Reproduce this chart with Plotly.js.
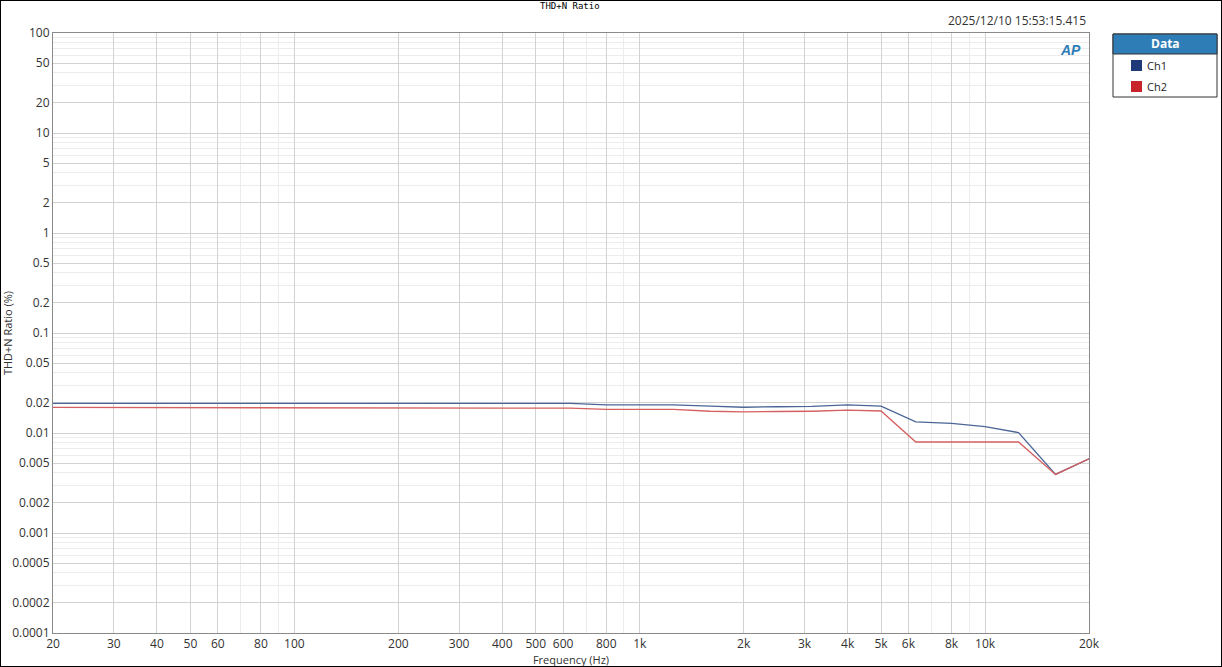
<!DOCTYPE html>
<html>
<head>
<meta charset="utf-8">
<script src="https://cdn.plot.ly/plotly-3.0.1.min.js"></script>
<style>
  html, body { margin: 0; padding: 0; background: #fff; }
  #wrap { position: relative; width: 1222px; height: 667px; }
  #chart { width: 1222px; height: 667px; }
  #frame { position: absolute; left: 0; top: 0; width: 1220px; height: 665px; border: 1px solid #000; pointer-events: none; }
</style>
</head>
<body>
<div id="wrap"><div id="chart"></div><div id="frame"></div></div>
<script>
// ---- data ----
const freqs = [20, 25, 31.5, 40, 50, 63, 80, 100, 125, 160, 200, 250, 315, 400, 500, 630,
               800, 1000, 1250, 1600, 2000, 2500, 3150, 4000, 5000, 6300, 8000, 10000, 12500, 16000, 20000];
const ch1 = [0.0198, 0.0198, 0.0198, 0.0198, 0.0198, 0.0198, 0.0198, 0.0198, 0.0198, 0.0198, 0.0198, 0.0198, 0.0198, 0.0198, 0.0198, 0.0198,
             0.0191, 0.0191, 0.0191, 0.0186, 0.0181, 0.0183, 0.01845, 0.0191, 0.0186, 0.0129, 0.0125, 0.0116, 0.0101, 0.00385, 0.00553];
const ch2 = [0.0180, 0.0180, 0.0180, 0.0180, 0.0180, 0.0180, 0.0180, 0.0180, 0.0180, 0.0180, 0.0177, 0.0177, 0.0177, 0.0177, 0.0177, 0.0177,
             0.0172, 0.0172, 0.0172, 0.0165, 0.0163, 0.0164, 0.0165, 0.0169, 0.0166, 0.00813, 0.00813, 0.00813, 0.00813, 0.00385, 0.00553];
const seriesNames = ['Ch1', 'Ch2'];
const xTickVals = [20, 30, 40, 50, 60, 80, 100, 200, 300, 400, 500, 600, 800, 1000, 2000, 3000, 4000, 5000, 6000, 8000, 10000, 20000];
const xTickText = ['20', '30', '40', '50', '60', '80', '100', '200', '300', '400', '500', '600', '800', '1k', '2k', '3k', '4k', '5k', '6k', '8k', '10k', '20k'];
const yTickVals = [100, 50, 20, 10, 5, 2, 1, 0.5, 0.2, 0.1, 0.05, 0.02, 0.01, 0.005, 0.002, 0.001, 0.0005, 0.0002, 0.0001];
const yTickText = ['100', '50', '20', '10', '5', '2', '1', '0.5', '0.2', '0.1', '0.05', '0.02', '0.01', '0.005', '0.002', '0.001', '0.0005', '0.0002', '0.0001'];
const titleText = 'THD+N Ratio';
const stampText = '2025/12/10 15:53:15.415';
const xTitle = 'Frequency (Hz)';
const yTitle = 'THD+N Ratio (%)';
const legendTitle = 'Data';

// ---- minor grid positions (1..9 per decade) ----
const xMinor = [];
for (let d = 10; d <= 10000; d *= 10) for (let m = 1; m <= 9; m++) { const v = m * d; if (v >= 20 && v <= 20000) xMinor.push(v); }
const yMinor = [];
for (let e = -4; e < 2; e++) for (let m = 1; m <= 9; m++) yMinor.push(m * Math.pow(10, e));

// ---- geometry helpers ----
const W = 1222, H = 667, L = 53, R = 133, T = 33, B = 34;
const pw = W - L - R, ph = H - T - B;
const px = x => (x - L) / pw;
const py = y => (H - B - y) / ph;

const lineColors = ['#4a6596', '#d4605f'];
const swatchColors = ['#1f3a78', '#c8222a'];

const traces = [
  { x: freqs, y: ch1, name: seriesNames[0], type: 'scatter', mode: 'lines', line: { color: lineColors[0], width: 1.3 }, showlegend: false },
  { x: freqs, y: ch2, name: seriesNames[1], type: 'scatter', mode: 'lines', line: { color: lineColors[1], width: 1.3 }, showlegend: false }
];

const shapes = [
  { type: 'rect', xref: 'paper', yref: 'paper', x0: px(1113), x1: px(1217), y0: py(97), y1: py(34), line: { color: '#333', width: 1 }, fillcolor: '#fff', layer: 'above' },
  { type: 'rect', xref: 'paper', yref: 'paper', x0: px(1113), x1: px(1217), y0: py(54), y1: py(34), line: { color: '#333', width: 1 }, fillcolor: '#2f7db6', layer: 'above' },
  { type: 'rect', xref: 'paper', yref: 'paper', x0: px(1131), x1: px(1142), y0: py(71), y1: py(60), line: { width: 0 }, fillcolor: swatchColors[0], layer: 'above' },
  { type: 'rect', xref: 'paper', yref: 'paper', x0: px(1131), x1: px(1142), y0: py(92), y1: py(81), line: { width: 0 }, fillcolor: swatchColors[1], layer: 'above' }
];

const annotations = [
  { text: titleText, xref: 'paper', yref: 'paper', x: px(570), y: py(6), xanchor: 'center', yanchor: 'middle', showarrow: false,
    font: { family: 'DejaVu Sans Mono', size: 9, color: '#000' } },
  { text: stampText, xref: 'paper', yref: 'paper', x: px(1088), y: py(21), xanchor: 'right', yanchor: 'middle', showarrow: false,
    font: { family: 'Open Sans', size: 12, color: '#333' } },
  { text: '<b><i>AP</i></b>', xref: 'paper', yref: 'paper', x: px(1070), y: py(50), xanchor: 'center', yanchor: 'middle', showarrow: false,
    font: { family: 'Liberation Sans', size: 14, color: '#2f7db6' } },
  { text: '<b>' + legendTitle + '</b>', xref: 'paper', yref: 'paper', x: px(1165), y: py(44), xanchor: 'center', yanchor: 'middle', showarrow: false,
    font: { family: 'Open Sans', size: 12, color: '#fff' } },
  { text: seriesNames[0], xref: 'paper', yref: 'paper', x: px(1145), y: py(65.5), xanchor: 'left', yanchor: 'middle', showarrow: false,
    font: { family: 'Open Sans', size: 11, color: '#222' } },
  { text: seriesNames[1], xref: 'paper', yref: 'paper', x: px(1145), y: py(86.5), xanchor: 'left', yanchor: 'middle', showarrow: false,
    font: { family: 'Open Sans', size: 11, color: '#222' } }
];

const layout = {
  width: W, height: H,
  margin: { l: L, r: R, t: T, b: B, pad: 0 },
  paper_bgcolor: '#fff', plot_bgcolor: '#fff',
  showlegend: false,
  font: { family: 'Open Sans', size: 12, color: '#333' },
  xaxis: {
    type: 'log', range: [Math.log10(20), Math.log10(20000)],
    tickmode: 'array', tickvals: xTickVals, ticktext: xTickText,
    showgrid: true, gridcolor: '#d2d2d2', gridwidth: 1,
    minor: { tickmode: 'array', tickvals: xMinor, showgrid: true, gridcolor: '#ececec', gridwidth: 1, ticks: '' },
    showline: true, linecolor: '#8a8a8a', linewidth: 1, mirror: true,
    ticks: '', ticklen: 0, zeroline: false,
    tickfont: { family: 'Open Sans', size: 12, color: '#333' },
    title: { text: xTitle, font: { family: 'Open Sans', size: 11, color: '#333' }, standoff: 0 }
  },
  yaxis: {
    type: 'log', range: [-4, 2],
    tickmode: 'array', tickvals: yTickVals, ticktext: yTickText,
    showgrid: true, gridcolor: '#d2d2d2', gridwidth: 1,
    minor: { tickmode: 'array', tickvals: yMinor, showgrid: true, gridcolor: '#ececec', gridwidth: 1, ticks: '' },
    showline: true, linecolor: '#8a8a8a', linewidth: 1, mirror: true,
    ticks: '', ticklen: 0, zeroline: false,
    tickfont: { family: 'Open Sans', size: 12, color: '#333' },
    title: { text: yTitle, font: { family: 'Open Sans', size: 11, color: '#333' }, standoff: 2 }
  },
  shapes: shapes,
  annotations: annotations
};

Plotly.newPlot('chart', traces, layout, { displayModeBar: false, staticPlot: true });
</script>
</body>
</html>
